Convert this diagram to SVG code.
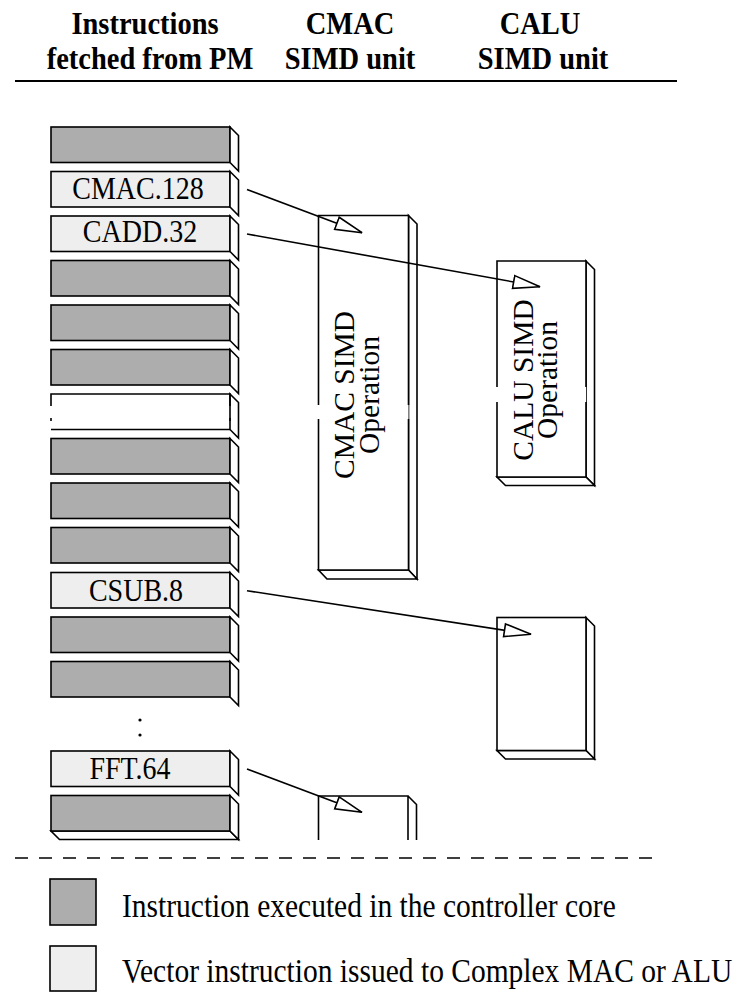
<svg xmlns="http://www.w3.org/2000/svg" width="745" height="992" viewBox="0 0 745 992">
<style>
.f{stroke:#000;stroke-width:1.6;stroke-linejoin:miter}
.dk{fill:#adadad}
.lt{fill:#eeeeee}
.wh{fill:#fff}
.ln{stroke:#000;stroke-width:1.6;fill:none}
.hd{font-family:"Liberation Serif","Times New Roman",serif;font-weight:bold;font-size:28.5px;text-anchor:middle}
.lb{font-family:"Liberation Serif","Times New Roman",serif;font-size:28px;text-anchor:middle}
.rt{font-family:"Liberation Serif","Times New Roman",serif;font-size:29.5px;text-anchor:middle}
.lg{font-family:"Liberation Serif","Times New Roman",serif;font-size:29.5px}
</style>
<defs>
<marker id="ah" markerUnits="userSpaceOnUse" markerWidth="30" markerHeight="16" viewBox="-1 -1 28 14" refX="25" refY="6" orient="auto">
<path d="M0,0 L25,6 L0,12 Z" fill="#fff" stroke="#000" stroke-width="1.5"/>
</marker>
</defs>
<rect width="745" height="992" fill="#fff"/>

<g id="header">
<text class="hd" transform="translate(145,34) scale(1,1.1)">Instructions</text>
<text class="hd" transform="translate(150,69) scale(1,1.1)">fetched from PM</text>
<text class="hd" transform="translate(350,34) scale(1,1.1)">CMAC</text>
<text class="hd" transform="translate(350,69) scale(1,1.1)">SIMD unit</text>
<text class="hd" transform="translate(540,34) scale(1,1.1)">CALU</text>
<text class="hd" transform="translate(543,69) scale(1,1.1)">SIMD unit</text>
<line x1="15" y1="81" x2="677" y2="81" stroke="#000" stroke-width="2"/>
</g>

<g id="col0"><rect class="f dk" x="51" y="127" width="179" height="35.5"/><polygon class="f wh" points="230,127 238.5,135.5 238.5,171 230,162.5"/></g>
<g id="col1"><rect class="f lt" x="51" y="171.5" width="179" height="35.5"/><polygon class="f wh" points="230,171.5 238.5,180 238.5,215.5 230,207"/><text class="lb" transform="translate(138,198.5) scale(1,1.12)">CMAC.128</text></g>
<g id="col2"><rect class="f lt" x="51" y="216" width="179" height="35.5"/><polygon class="f wh" points="230,216 238.5,224.5 238.5,260 230,251.5"/><text class="lb" transform="translate(140,242) scale(1,1.12)">CADD.32</text></g>
<g id="col3"><rect class="f dk" x="51" y="260.5" width="179" height="35.5"/><polygon class="f wh" points="230,260.5 238.5,269 238.5,304.5 230,296"/></g>
<g id="col4"><rect class="f dk" x="51" y="305" width="179" height="35.5"/><polygon class="f wh" points="230,305 238.5,313.5 238.5,349 230,340.5"/></g>
<g id="col5"><rect class="f dk" x="51" y="349.5" width="179" height="35.5"/><polygon class="f wh" points="230,349.5 238.5,358 238.5,393.5 230,385"/></g>
<g id="col6">
<polygon class="f wh" points="230,394 238.5,402.5 238.5,438 230,429.5"/>
<path class="ln" d="M51,406 V394 H230 V406 M51,418 V421 M230,418 V421 M51,429.5 H230"/>
</g>
<g id="col7"><rect class="f dk" x="51" y="438.5" width="179" height="35.5"/><polygon class="f wh" points="230,438.5 238.5,447 238.5,482.5 230,474"/></g>
<g id="col8"><rect class="f dk" x="51" y="483" width="179" height="35.5"/><polygon class="f wh" points="230,483 238.5,491.5 238.5,527 230,518.5"/></g>
<g id="col9"><rect class="f dk" x="51" y="527.5" width="179" height="35.5"/><polygon class="f wh" points="230,527.5 238.5,536 238.5,571.5 230,563"/></g>
<g id="col10"><rect class="f lt" x="51" y="572.5" width="179" height="35.5"/><polygon class="f wh" points="230,572.5 238.5,581 238.5,616.5 230,608"/><text class="lb" transform="translate(136,600.5) scale(1,1.12)">CSUB.8</text></g>
<g id="col11"><rect class="f dk" x="51" y="617" width="179" height="35.5"/><polygon class="f wh" points="230,617 238.5,625.5 238.5,661 230,652.5"/></g>
<g id="col12"><rect class="f dk" x="51" y="661.5" width="179" height="35.5"/><polygon class="f wh" points="230,661.5 238.5,670 238.5,705.5 230,697"/></g>
<g id="dots"><circle cx="140" cy="720" r="1.6"/><circle cx="140" cy="735" r="1.6"/></g>
<g id="col13"><rect class="f lt" x="51" y="751" width="179" height="35.5"/><polygon class="f wh" points="230,751 238.5,759.5 238.5,795 230,786.5"/><text class="lb" transform="translate(130,778.5) scale(1,1.12)">FFT.64</text></g>
<g id="col14"><polygon class="f wh" points="51,831 230,831 238.5,839.5 59.5,839.5"/><rect class="f dk" x="51" y="795.5" width="179" height="35.5"/><polygon class="f wh" points="230,795.5 238.5,804 238.5,839.5 230,831"/></g>

<g id="cmac_op">
<polygon class="f wh" points="408.5,215.5 417,224 417,579 408.5,570"/>
<polygon class="f wh" points="318.5,570 408.5,570 417,579 327,579"/>
<rect class="wh" x="318.5" y="215.5" width="90" height="354.5"/>
<path class="ln" d="M318.5,405 V215.5 H408.5 V405 M318.5,419 V570 H408.5 V419"/>
<text class="rt" transform="translate(354,395) rotate(-90)">CMAC SIMD</text>
<text class="rt" transform="translate(379,395) rotate(-90)">Operation</text>
</g>

<g id="calu_op">
<polygon class="f wh" points="586,261 594.5,269.5 594.5,485.5 586,477"/>
<polygon class="f wh" points="497,477 586,477 594.5,485.5 505.5,485.5"/>
<rect class="wh" x="497" y="261" width="89" height="216"/>
<path class="ln" d="M497,387 V261 H586 V387 M497,402 V477 H586 V402"/>
<text class="rt" transform="translate(533,380) rotate(-90)">CALU SIMD</text>
<text class="rt" transform="translate(557,380) rotate(-90)">Operation</text>
</g>

<g id="csub_op">
<polygon class="f wh" points="586,617.5 594.5,626 594.5,759 586,750.5"/>
<polygon class="f wh" points="497,750.5 586,750.5 594.5,759 505.5,759"/>
<rect class="f wh" x="497" y="617.5" width="89" height="133"/>
</g>

<g id="fft_op">
<path class="ln" d="M318.5,840 V796 H408 V840 M408,796 L416.5,804.5 V840"/>
</g>

<g id="connectors">
<line class="ln" x1="247" y1="189.5" x2="362" y2="232.7" marker-end="url(#ah)"/>
<line class="ln" x1="247" y1="234" x2="540" y2="286.7" marker-end="url(#ah)"/>
<line class="ln" x1="247" y1="590.7" x2="531" y2="634.3" marker-end="url(#ah)"/>
<line class="ln" x1="247" y1="769" x2="362" y2="812.3" marker-end="url(#ah)"/>
</g>

<line x1="15" y1="858" x2="662" y2="858" stroke="#000" stroke-width="1.5" stroke-dasharray="13,11"/>

<g id="legend">
<rect class="f dk" x="50" y="879" width="46" height="46"/>
<text class="lg" transform="translate(122,917) scale(1,1.17)">Instruction executed in the controller core</text>
<rect class="f lt" x="50" y="946" width="46" height="45"/>
<text class="lg" transform="translate(122,982) scale(1,1.17)">Vector instruction issued to Complex MAC or ALU</text>
</g>
</svg>
